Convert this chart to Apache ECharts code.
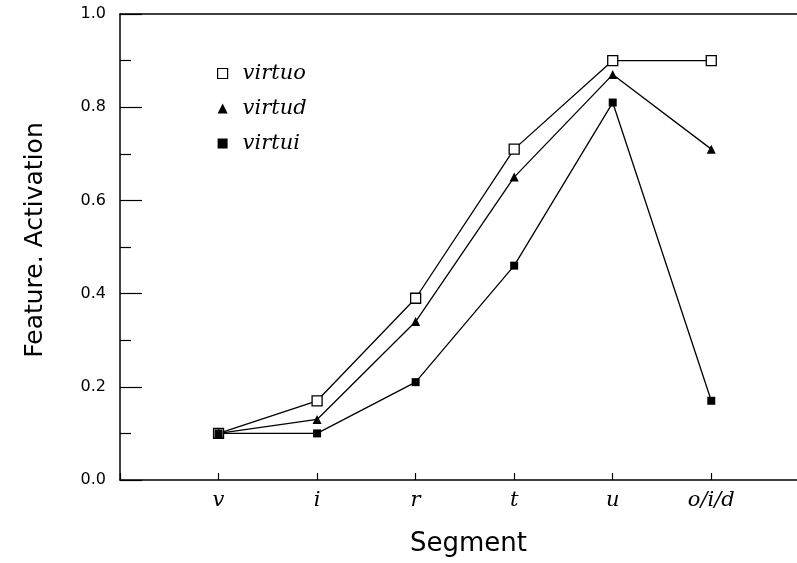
<!DOCTYPE html>
<html>
<head>
<meta charset="utf-8">
<script src="https://cdn.jsdelivr.net/npm/echarts@6/dist/echarts.min.js"></script>
<style>
  html, body { margin: 0; padding: 0; background: #fff; }
  #chart { width: 797px; height: 563px; }
</style>
</head>
<body>
<div id="chart"></div>
<script>
// segments along the x axis
var segments = ['v', 'i', 'r', 't', 'u', 'o/i/d']
var virtuo = [0.10, 0.17, 0.39, 0.71, 0.90, 0.90]
var virtud = [0.10, 0.13, 0.34, 0.65, 0.87, 0.71]
var virtui = [0.10, 0.10, 0.21, 0.46, 0.81, 0.17]

function pairs(vals) {
  return vals.map(function (v, i) { return [i + 1, v] })
}

var chart = echarts.init(document.getElementById('chart'))
var serifItalic = { fontFamily: 'DejaVu Serif', fontStyle: 'italic', fontSize: 21, color: '#000' }

chart.setOption({
  animation: false,
  backgroundColor: '#fff',
  grid: { left: 120, right: 0, top: 14, bottom: 83 },
  legend: {
    orient: 'vertical',
    left: 212,
    top: 58,
    itemGap: 14,
    itemWidth: 10,
    itemHeight: 10,
    textStyle: Object.assign({ padding: [0, 0, 0, 10] }, serifItalic),
    data: [
      { name: 'virtuo', icon: 'rect', itemStyle: { color: '#fff', borderColor: '#000', borderWidth: 1.2 } },
      { name: 'virtud', icon: 'triangle', itemStyle: { color: '#000' } },
      { name: 'virtui', icon: 'rect', itemStyle: { color: '#000' } }
    ]
  },
  xAxis: [{
    type: 'value',
    min: 0,
    max: 6.87,
    interval: 1,
    name: 'Segment',
    nameLocation: 'middle',
    nameGap: 51,
    nameTextStyle: { fontFamily: 'DejaVu Sans', fontSize: 26, color: '#000', padding: [0, 0, 0, 20] },
    axisLine: { lineStyle: { color: '#000', width: 1.5 } },
    axisTick: { inside: true, length: 7, lineStyle: { color: '#000', width: 1.2 } },
    axisLabel: Object.assign({
      margin: 10,
      showMaxLabel: false,
      formatter: function (v) { return segments[v - 1] || '' }
    }, serifItalic),
    splitLine: { show: false }
  }, {
    type: 'value',
    position: 'top',
    min: 0,
    max: 6.87,
    axisLine: { show: true, lineStyle: { color: '#000', width: 1.5 } },
    axisTick: { show: false },
    axisLabel: { show: false },
    splitLine: { show: false }
  }],
  yAxis: {
    type: 'value',
    min: 0,
    max: 1,
    interval: 0.2,
    name: 'Feature. Activation',
    nameLocation: 'middle',
    nameGap: 72,
    nameTextStyle: { fontFamily: 'DejaVu Sans', fontSize: 25, color: '#000', padding: [0, 0, 0, 14] },
    axisLine: { show: true, lineStyle: { color: '#000', width: 1.5 } },
    axisTick: { inside: true, length: 22, lineStyle: { color: '#000', width: 1.2 } },
    minorTick: { show: true, splitNumber: 2, length: 11, lineStyle: { color: '#000', width: 1.2 } },
    axisLabel: {
      margin: 14,
      fontFamily: 'DejaVu Sans',
      fontSize: 16,
      color: '#000',
      formatter: function (v) { return v.toFixed(1) }
    },
    splitLine: { show: false }
  },
  series: [{
    name: 'virtuo',
    type: 'line',
    data: pairs(virtuo),
    symbol: 'rect',
    symbolSize: 10,
    itemStyle: { color: '#fff', borderColor: '#000', borderWidth: 1.3 },
    lineStyle: { color: '#000', width: 1.3 }
  }, {
    name: 'virtud',
    type: 'line',
    data: pairs(virtud),
    symbol: 'triangle',
    symbolSize: 9,
    itemStyle: { color: '#000' },
    lineStyle: { color: '#000', width: 1.3 }
  }, {
    name: 'virtui',
    type: 'line',
    data: pairs(virtui),
    symbol: 'rect',
    symbolSize: 8,
    itemStyle: { color: '#000' },
    lineStyle: { color: '#000', width: 1.3 }
  }]
})
</script>
</body>
</html>
